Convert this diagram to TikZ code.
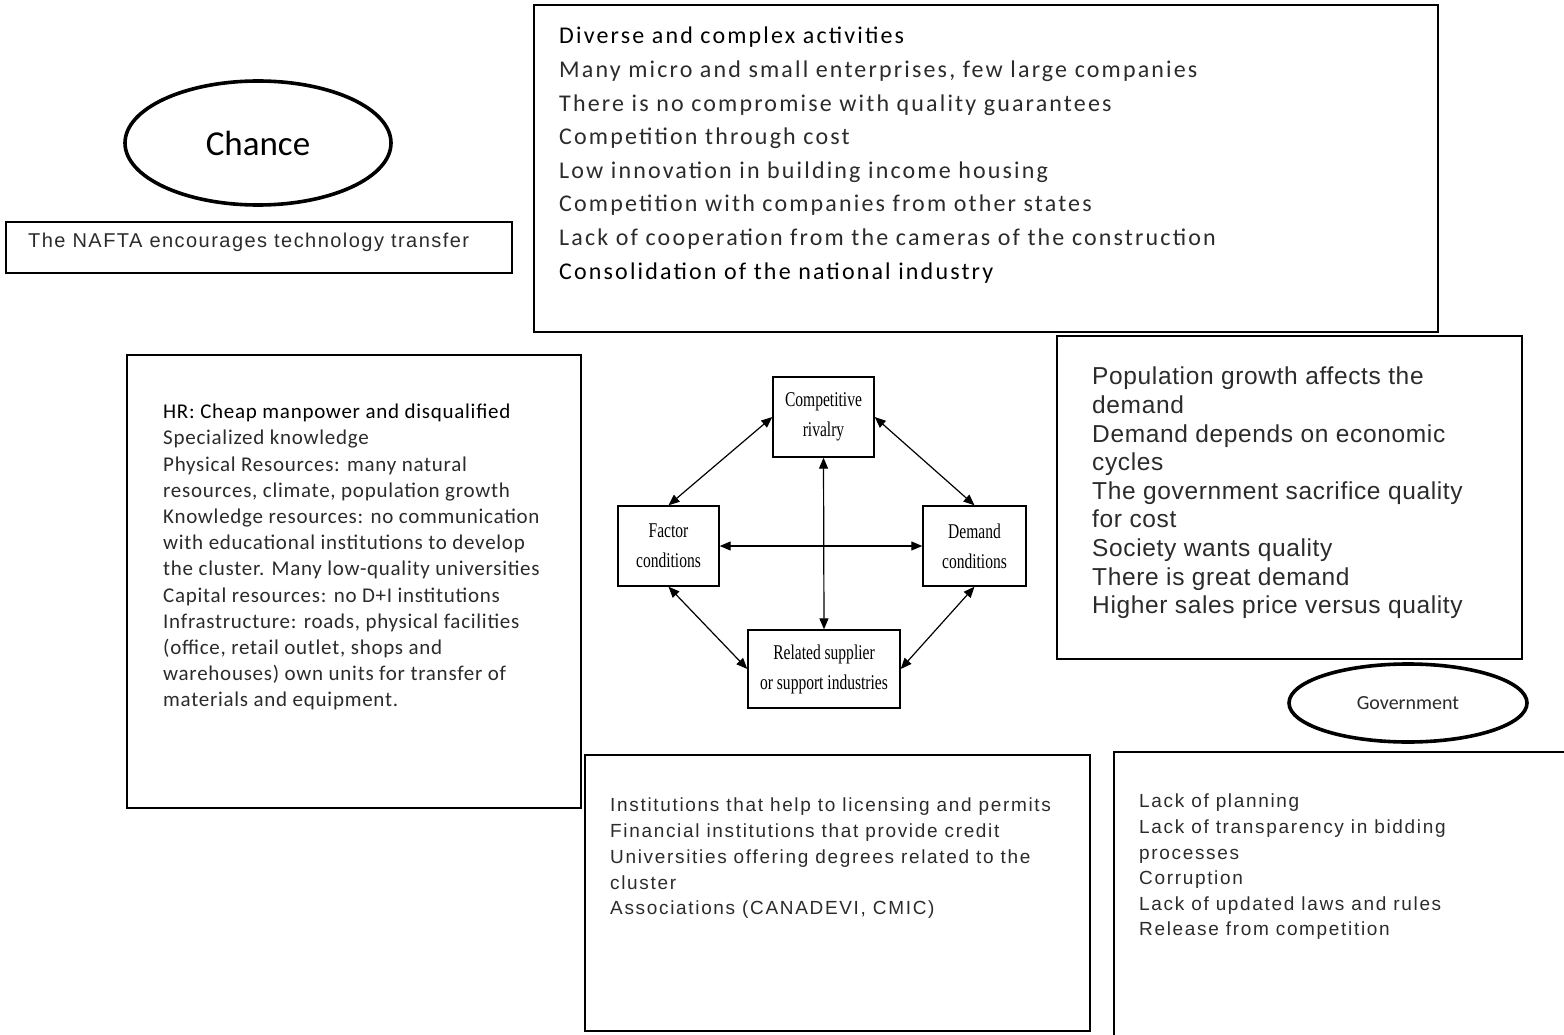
\documentclass[tikz,border=0pt]{standalone}
\usepackage{fontspec}
\setmainfont{Carlito}
\newfontfamily\arialf[LetterSpace=8.8]{Liberation Sans}
\newfontfamily\naftaf[LetterSpace=7.3]{Liberation Sans}
\newfontfamily\rightf[LetterSpace=2.6]{Liberation Sans}
\newfontfamily\topf[LetterSpace=9]{Carlito}
\newfontfamily\leftf[LetterSpace=3.5]{Carlito}
\newfontfamily\timesf{Liberation Serif}
\usetikzlibrary{shapes.geometric,arrows.meta}
\begin{document}
\begin{tikzpicture}[x=1pt,y=-1pt,
  bigbox/.style={draw, line width=2.6pt, inner sep=0pt},
  thinbox/.style={draw, line width=1.8pt, inner sep=0pt},
  oval/.style={draw, ellipse, line width=3.6pt, inner sep=0pt},
  porter/.style={draw, line width=1.4pt, inner sep=0pt, minimum height=80pt},
  txt/.style={inner sep=0pt, align=left, anchor=north west, text=black!83},
  link/.style={line width=1.2pt, {Triangle[length=11pt,width=9pt]}-{Triangle[length=11pt,width=9pt]}}]
\clip (0,0) rectangle (1564,1035);
\fill[white] (0,0) rectangle (1564,1035);

% top box
\node[bigbox, minimum width=904pt, minimum height=327pt] (topbox) at (986,168.5) {};
\node[txt, font=\topf\fontsize{24}{33.6}\selectfont] (toptext) at (559,27) {\textcolor{black}{Diverse and complex activities}\\
Many micro and small enterprises, few large companies\\
There is no compromise with quality guarantees\\
Competition through cost\\
Low innovation in building income housing\\
Competition with companies from other states\\
Lack of cooperation from the cameras of the construction\\
\textcolor{black}{Consolidation of the national industry}};

% chance
\node[oval, minimum width=266pt, minimum height=124pt, font=\fontsize{35}{38}\selectfont] (chance) at (258,143) {Chance};
\node[thinbox, minimum width=506pt, minimum height=51pt] (nafta) at (259,247.5) {};
\node[inner sep=0pt, anchor=west, text=black!83, font=\naftaf\fontsize{20}{22}\selectfont] (naftatext) at (28,242) {The NAFTA encourages technology transfer};

% left box
\node[bigbox, minimum width=454pt, minimum height=453pt] (leftbox) at (354,581.5) {};
\node[txt, font=\leftf\fontsize{21}{26.2}\selectfont] (lefttext) at (163,404) {\textcolor{black}{HR: Cheap manpower and disqualified}\\
Specialized knowledge\\
Physical Resources: many natural\\
resources, climate, population growth\\
Knowledge resources: no communication\\
with educational institutions to develop\\
the cluster. Many low-quality universities\\
Capital resources: no D+I institutions\\
Infrastructure: roads, physical facilities\\
(office, retail outlet, shops and\\
warehouses) own units for transfer of\\
materials and equipment.};

% right box
\node[bigbox, minimum width=465pt, minimum height=323pt] (rightbox) at (1289.5,497.5) {};
\node[txt, font=\rightf\fontsize{24.5}{28.6}\selectfont] (righttext) at (1092,367) {Population growth affects the\\
demand\\
Demand depends on economic\\
cycles\\
The government sacrifice quality\\
for cost\\
Society wants quality\\
There is great demand\\
Higher sales price versus quality};

\node[oval, minimum width=238pt, minimum height=78pt, text=black!83, font=\fontsize{20}{22}\selectfont] (gov) at (1408,703) {Government};

% institutions box
\node[bigbox, minimum width=505pt, minimum height=276pt] (instbox) at (837.5,893) {};
\node[txt, font=\arialf\fontsize{19}{25.75}\selectfont] (insttext) at (610,798) {Institutions that help to licensing and permits\\
Financial institutions that provide credit\\
Universities offering degrees related to the\\
cluster\\
Associations (CANADEVI, CMIC)};

% government issues box (runs off the page)
\node[bigbox, minimum width=486pt, minimum height=348pt] (lackbox) at (1357,926) {};
\node[txt, font=\arialf\fontsize{19}{25.6}\selectfont] (lacktext) at (1139,794) {Lack of planning\\
Lack of transparency in bidding\\
processes\\
Corruption\\
Lack of updated laws and rules\\
Release from competition};

% Porter diamond
\node[porter, minimum width=101pt] (comp) at (823.5,417) {\scalebox{0.74}[1]{\parbox{130pt}{\centering\timesf\fontsize{21}{30}\selectfont Competitive\\ rivalry}}};
\node[porter, minimum width=101pt] (factor) at (668.5,546) {\scalebox{0.74}[1]{\parbox{130pt}{\centering\timesf\fontsize{21}{30}\selectfont Factor\\ conditions}}};
\node[porter, minimum width=103pt] (demand) at (974.5,546) {\scalebox{0.74}[1]{\parbox{130pt}{\centering\timesf\fontsize{21}{30}\selectfont Demand\\ conditions}}};
\node[porter, minimum width=152pt, minimum height=78pt] (related) at (824,669) {\scalebox{0.74}[1]{\parbox{190pt}{\centering\timesf\fontsize{21}{30}\selectfont Related supplier\\ or support industries}}};

\draw[link] (factor.north) -- (comp.west);
\draw[link] (comp.east) -- (demand.north);
\draw[link] (comp.south) -- (related.north);
\draw[link] (factor.east) -- (demand.west);
\draw[link] (factor.south) -- (related.west);
\draw[link] (demand.south) -- (related.east);
\end{tikzpicture}
\end{document}
